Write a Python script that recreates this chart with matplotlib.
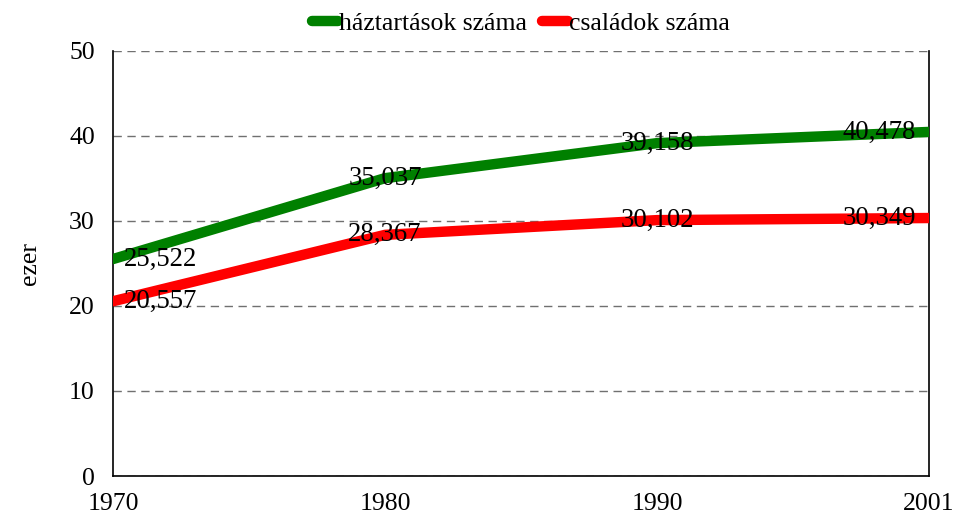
import matplotlib.pyplot as plt

plt.rcParams["font.family"] = ["Liberation Serif", "DejaVu Serif"]

years = ["1970", "1980", "1990", "2001"]
households = [25.522, 35.037, 39.158, 40.478]
families = [20.557, 28.367, 30.102, 30.349]
household_labels = ["25,522", "35,037", "39,158", "40,478"]
family_labels = ["20,557", "28,367", "30,102", "30,349"]

fig = plt.figure(figsize=(9.55, 5.17), dpi=100)
ax = fig.add_axes([0.1183, 0.0793, 0.8545, 0.8221])

x = list(range(len(years)))
ax.plot(x, households, color="#008000", lw=7.5, solid_capstyle="round",
        label="háztartások száma", zorder=3)
ax.plot(x, families, color="#ff0000", lw=7.5, solid_capstyle="round",
        label="családok száma", zorder=3)

fs = 18.5
for series, labels in ((households, household_labels), (families, family_labels)):
    for i, (v, t) in enumerate(zip(series, labels)):
        if i == 0:
            ha, dx = "left", 11
        elif i == len(series) - 1:
            ha, dx = "right", -13
        else:
            ha, dx = "center", 0
        ax.annotate(t, (i, v), xytext=(dx, 0), textcoords="offset pixels",
                    ha=ha, va="center", fontsize=19.3, zorder=4)

ax.set_xlim(0, len(years) - 1)
ax.set_ylim(0, 50)
ax.set_xticks(x)
ax.set_xticklabels(years)
ax.set_yticks(range(0, 51, 10))
ax.tick_params(length=0, labelsize=fs)
ax.tick_params(axis="x", pad=12)
ax.tick_params(axis="y", pad=13)
ax.set_ylabel("ezer", fontsize=fs, labelpad=20)

ax.yaxis.grid(True, color="#707070", ls=(0, (6, 4)), lw=1.0)
ax.set_axisbelow(True)
ax.spines["top"].set_visible(False)
for s in ("left", "right", "bottom"):
    ax.spines[s].set_linewidth(1.2)
    ax.spines[s].set_color("black")

# legend centred over the plot area, as in the original
ax.legend(loc="upper center", bbox_to_anchor=(0.5, 1.115), ncol=2, frameon=False,
          fontsize=fs, handlelength=1.0, handletextpad=0.05, columnspacing=0.6,
          borderaxespad=0)

fig.savefig("out.png", dpi=100)
